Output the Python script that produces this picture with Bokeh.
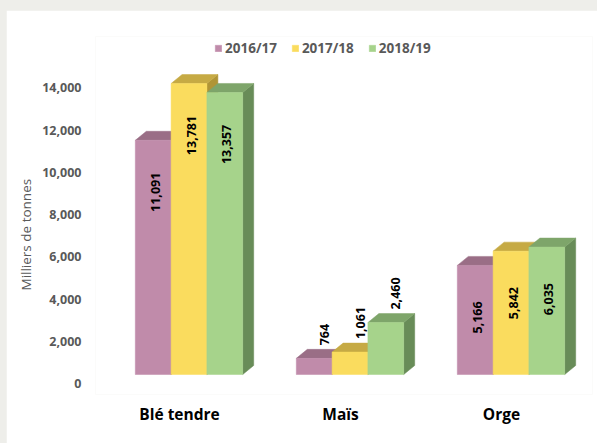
import math
from bokeh.plotting import figure
from bokeh.layouts import column
from bokeh.models import (LinearAxis, Range1d, FixedTicker, NumeralTickFormatter,
                          ColumnDataSource, Legend, LegendItem, Title)
from bokeh.core.properties import value
from bokeh.embed import file_html
from bokeh.resources import INLINE

# ---------------- data ----------------
categories = ["Blé tendre", "Maïs", "Orge"]
series_names = ["2016/17", "2017/18", "2018/19"]
v_2016 = [11091, 764, 5166]
v_2017 = [13781, 1061, 5842]
v_2018 = [13357, 2460, 6035]
y_ticks = [0, 2000, 4000, 6000, 8000, 10000, 12000, 14000]
y_title = "Milliers de tonnes"

# ---------------- style ----------------
front_colors = ["#C08BAA", "#FADC5E", "#A6D38B"]
top_colors = ["#9A6E86", "#C6AA44", "#7EA56A"]
side_colors = ["#8A5F78", "#B09536", "#688C58"]
FONT = "Open Sans"

# ---------------- geometry (page pixels) ----------------
OX, OY = 6, 10                              # figure origin on the page
W, H = 591, 433
PL, PR, PT, PB = 95, 592, 36, 394           # frame edges on page
FL, FR, FT, FB = PL - OX, PR - OX, PT - OY, PB - OY
frame_w, frame_h = FR - FL, FB - FT
px_per_cat = 161.0
px_per_unit = 0.021116
first_center_px = 188.5 - OX
zero_px = 374 - OY
axis_zero_shift = 9                         # tick labels sit 9px lower
cat_label_shift = -9.5
bar_px = 35.8
depth_dx_px, depth_dy_px = 11, 9

x_start = -(first_center_px - FL) / px_per_cat
x_end = x_start + frame_w / px_per_cat
y_start = -(FB - zero_px) / px_per_unit
y_end = y_start + frame_h / px_per_unit
ya_start = -(FB - zero_px - axis_zero_shift) / px_per_unit
ya_end = ya_start + frame_h / px_per_unit
xc_start = x_start - cat_label_shift / px_per_cat
xc_end = x_end - cat_label_shift / px_per_cat

bw = bar_px / px_per_cat
dx = depth_dx_px / px_per_cat
dy = depth_dy_px / px_per_unit

p = figure(width=W, height=H, output_backend="svg", toolbar_location=None,
           x_range=Range1d(x_start, x_end), y_range=Range1d(y_start, y_end),
           x_axis_location=None, y_axis_location=None,
           min_border_left=FL, min_border_right=W - FR,
           min_border_top=FT, min_border_bottom=H - FB)
p.outline_line_color = None
p.xgrid.visible = False
p.ygrid.visible = False
p.background_fill_color = "white"
p.border_fill_color = "white"

p.extra_y_ranges = {"ax": Range1d(ya_start, ya_end)}
p.extra_x_ranges = {"cat": Range1d(xc_start, xc_end)}

yaxis = LinearAxis(y_range_name="ax", ticker=FixedTicker(ticks=y_ticks),
                   formatter=NumeralTickFormatter(format="0,0"))
yaxis.axis_line_color = None
yaxis.major_tick_line_color = None
yaxis.minor_tick_line_color = None
yaxis.major_label_text_font = FONT
yaxis.major_label_text_font_style = "bold"
yaxis.major_label_text_font_size = "12.5px"
yaxis.major_label_text_color = "#595959"
yaxis.major_label_standoff = 8
p.add_layout(yaxis, "left")

ytitle = Title(text=y_title, align="left", offset=PB - 290, standoff=10,
               text_font=FONT, text_font_style="normal", text_font_size="13.5px",
               text_color="#595959")
p.add_layout(ytitle, "left")

xaxis = LinearAxis(x_range_name="cat", ticker=FixedTicker(ticks=list(range(len(categories)))),
                   major_label_overrides={i: c for i, c in enumerate(categories)})
xaxis.axis_line_color = None
xaxis.major_tick_line_color = None
xaxis.minor_tick_line_color = None
xaxis.major_label_text_font = FONT
xaxis.major_label_text_font_style = "bold"
xaxis.major_label_text_font_size = "15.5px"
xaxis.major_label_text_color = "#000000"
xaxis.major_label_standoff = 2
p.add_layout(xaxis, "below")

all_series = [v_2016, v_2017, v_2018]
legend_items = []
lab_x, lab_y, lab_t, lab_align, lab_xo, lab_yo = [], [], [], [], [], []
for j, vals in enumerate(all_series):
    lefts, rights, tops, bottoms = [], [], [], []
    top_xs, top_ys, side_xs, side_ys = [], [], [], []
    for i, v in enumerate(vals):
        x0 = i - 1.5 * bw + j * bw
        x1 = x0 + bw
        lefts.append(x0); rights.append(x1); tops.append(v); bottoms.append(0)
        top_xs.append([x0, x1, x1 + dx, x0 + dx])
        top_ys.append([v, v, v + dy, v + dy])
        side_xs.append([x1, x1 + dx, x1 + dx, x1])
        side_ys.append([0, dy, v + dy, v])
        lab_x.append((x0 + x1) / 2)
        lab_y.append(v)
        lab_t.append(f"{v:,}")
        if v >= 4000:
            lab_align.append("center"); lab_xo.append(2); lab_yo.append(52)
        else:
            lab_align.append("left"); lab_xo.append(10); lab_yo.append(-13)
    p.patches(side_xs, side_ys, fill_color=side_colors[j], line_color=side_colors[j], line_width=0.5)
    p.patches(top_xs, top_ys, fill_color=top_colors[j], line_color=top_colors[j], line_width=0.5)
    r = p.quad(left=lefts, right=rights, bottom=bottoms, top=tops,
               fill_color=front_colors[j], line_color=front_colors[j], line_width=0.5)
    legend_items.append(LegendItem(label=series_names[j], renderers=[r]))

src = ColumnDataSource(dict(x=lab_x, y=lab_y, t=lab_t, a=lab_align, xo=lab_xo, yo=lab_yo))
p.text(x="x", y="y", text="t", source=src, angle=math.pi / 2,
       text_align="a", text_baseline="middle", x_offset="xo", y_offset="yo",
       text_font=value(FONT), text_font_style="bold", text_font_size="12.5px",
       text_color="#000000")

legend_left = 214 - PL
legend_bottom = PB - 57
legend = Legend(items=legend_items, orientation="horizontal", location=(legend_left, legend_bottom),
                glyph_width=8, glyph_height=8, label_standoff=3, spacing=14,
                padding=0, margin=0, label_height=14,
                label_text_font=FONT, label_text_font_style="bold",
                label_text_font_size="13.5px", label_text_color="#595959",
                border_line_color=None, background_fill_alpha=0)
p.add_layout(legend, "center")

layout = column(p, styles={"background-color": "#EEEEEA", "padding-top": f"{OY}px",
                           "padding-left": f"{OX}px"})
open("out.html", "w").write(file_html(layout, INLINE))
